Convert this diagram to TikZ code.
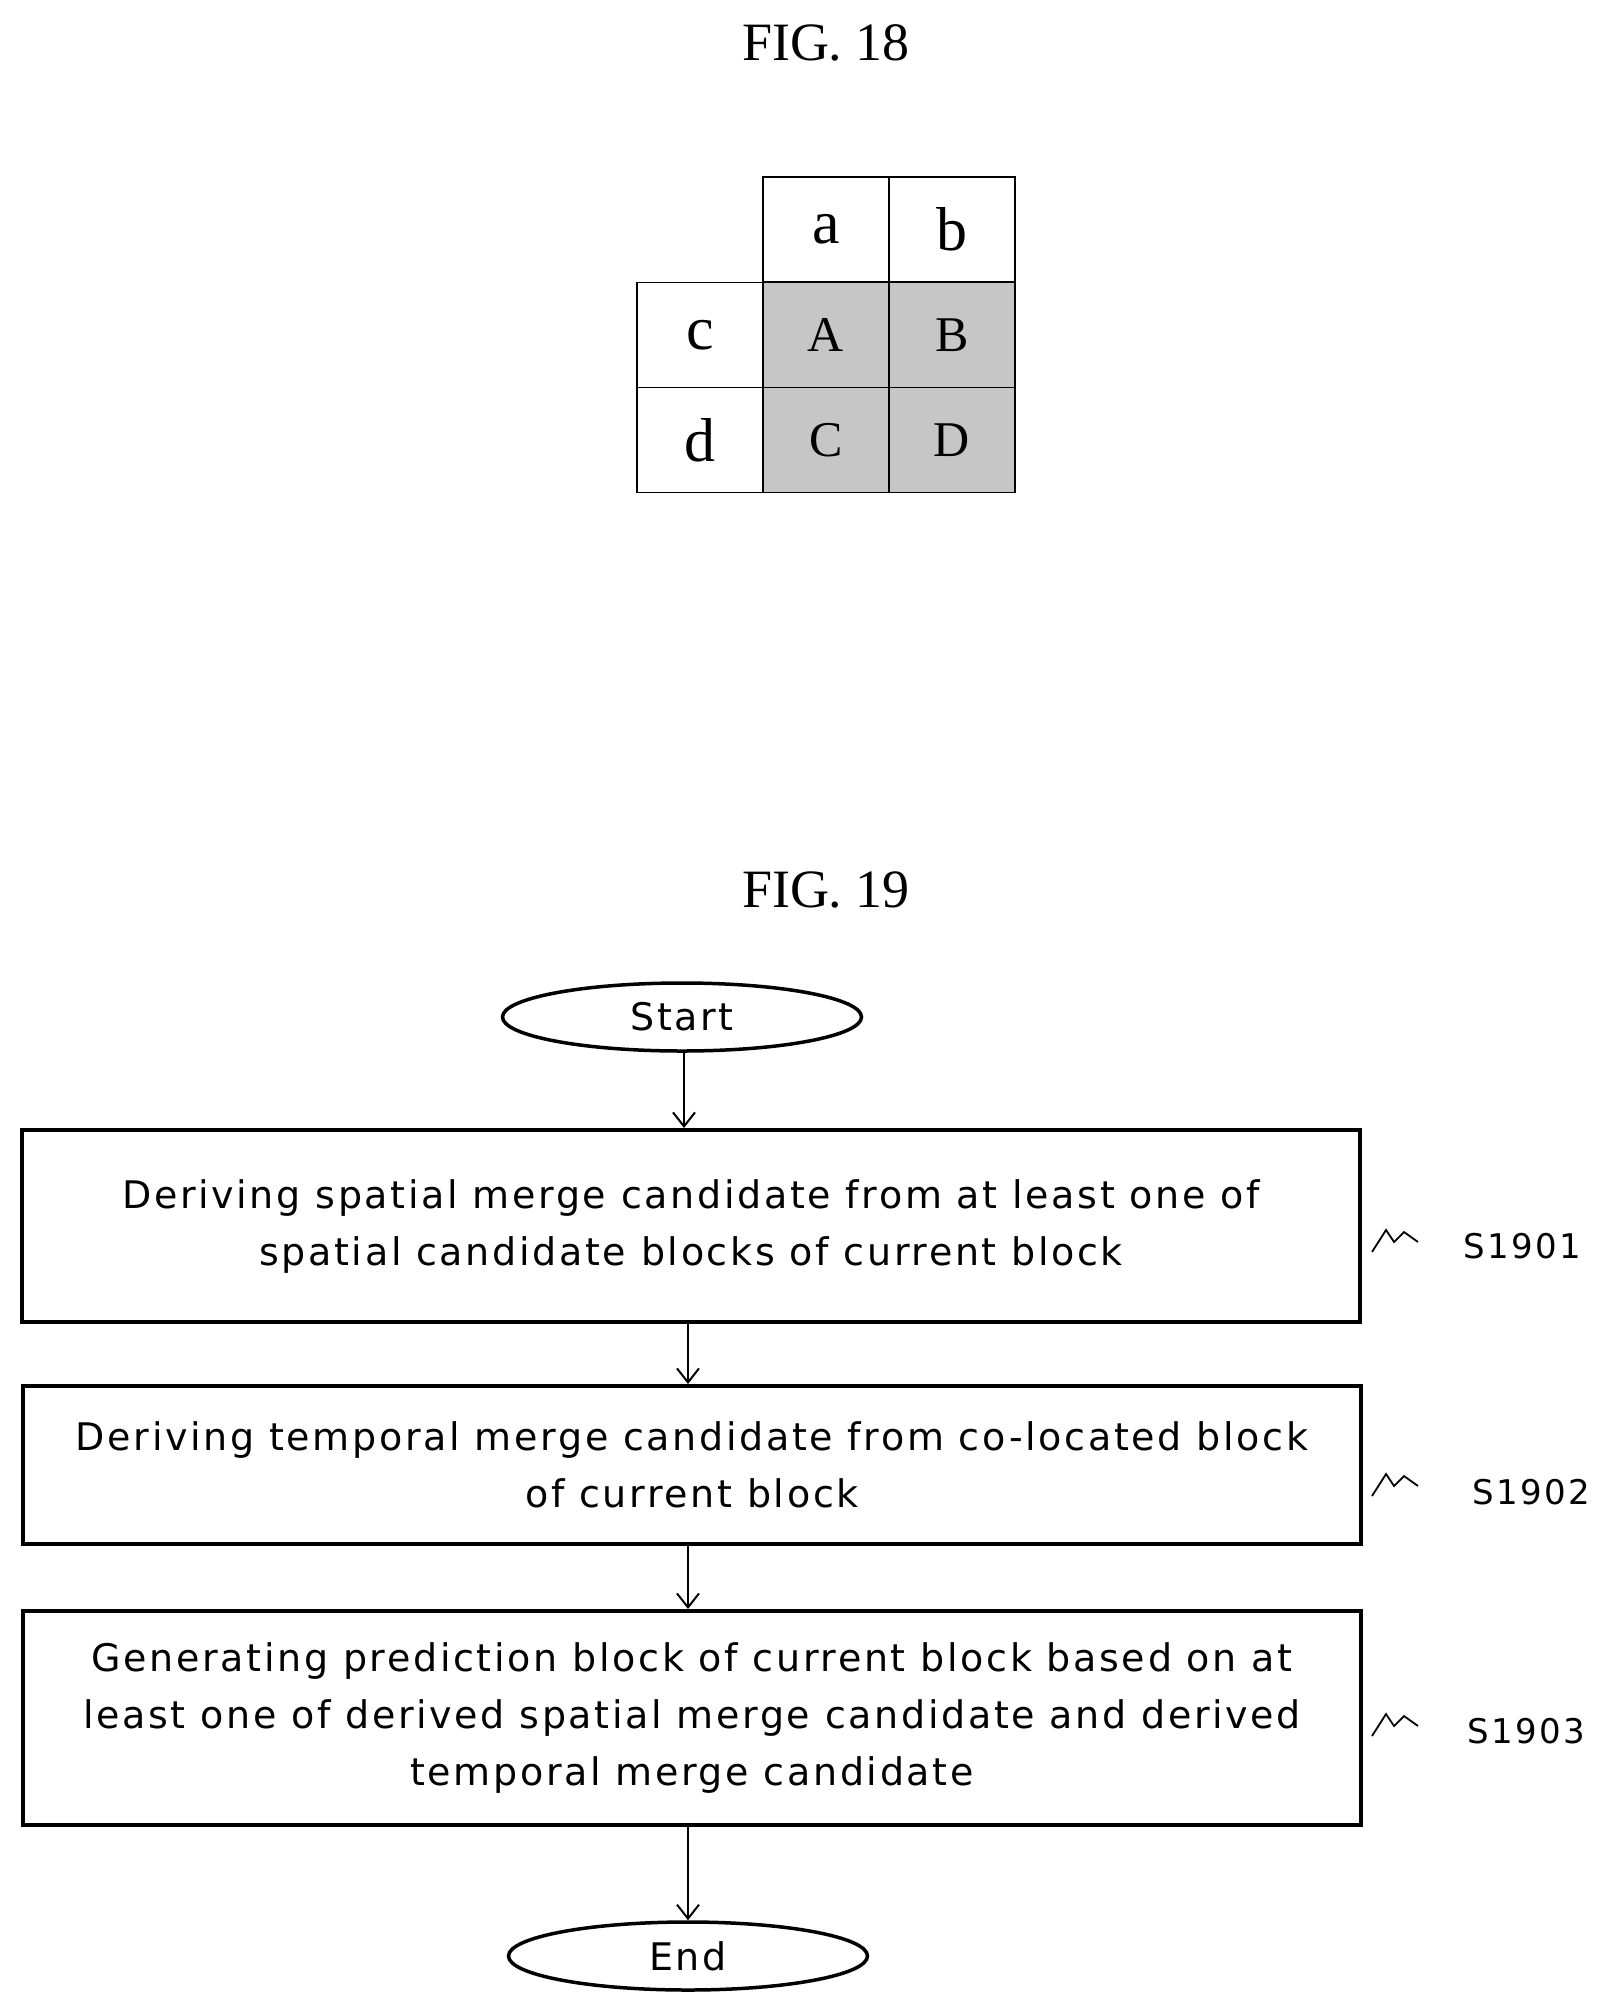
\documentclass[tikz,border=0pt]{standalone}
\usetikzlibrary{shapes.geometric,arrows.meta}
\usepackage{fontspec}
\setmainfont{Liberation Serif}
\newfontfamily\flow[LetterSpace=7]{DejaVu Sans}
\begin{document}
\begin{tikzpicture}[x=1pt,y=-1pt,
  cell/.style={draw,line width=1.8pt,minimum width=126pt,minimum height=105pt,inner sep=0pt,font=\fontsize{62}{62}\selectfont},
  shd/.style={cell,fill=gray!45,font=\fontsize{50}{50}\selectfont},
  box/.style={draw,line width=4pt,inner sep=0pt,align=center,font=\flow\fontsize{38}{57}\selectfont},
  term/.style={draw,ellipse,line width=3.5pt,minimum width=359pt,minimum height=68pt,inner sep=0pt,font=\flow\fontsize{38}{38}\selectfont},
  arr/.style={->,line width=2pt,>={Straight Barb[length=14pt,width=22pt]}},
  lab/.style={font=\flow\fontsize{34}{34}\selectfont},
  ttl/.style={font=\fontsize{54}{54}\selectfont}]
\useasboundingbox (0,0) rectangle (1606,2016);
\node[ttl] (t18) at (826,43) {FIG. 18};
\node[cell] (ca) at (826,229.5) {a};
\node[cell] (cb) at (952,229.5) {b};
\node[cell] (cc) at (700,335) {c};
\node[shd] (cA) at (826,335) {A};
\node[shd] (cB) at (952,335) {B};
\node[cell] (cd) at (700,440) {d};
\node[shd] (cC) at (826,440) {C};
\node[shd] (cD) at (952,440) {D};
\node[ttl] (t19) at (826,890) {FIG. 19};
\node[term] (st) at (682,1017) {Start};
\node[box,minimum width=1338pt,minimum height=192pt] (b1) at (691,1226) {Deriving spatial merge candidate from at least one of\\spatial candidate blocks of current block};
\node[box,minimum width=1338pt,minimum height=158pt] (b2) at (692,1465) {Deriving temporal merge candidate from co-located block\\of current block};
\node[box,minimum width=1338pt,minimum height=214pt] (b3) at (692,1718) {Generating prediction block of current block based on at\\least one of derived spatial merge candidate and derived\\temporal merge candidate};
\node[term] (en) at (688,1956) {End};
\draw[arr] (st.south -| 684,0) -- (b1.north -| 684,0);
\draw[arr] (b1.south -| 688,0) -- (b2.north -| 688,0);
\draw[arr] (b2.south -| 688,0) -- (b3.north -| 688,0);
\draw[arr] (b3.south -| 688,0) -- (en.north -| 688,0);
\node[lab] (l1) at (1522,1246) {S1901};
\node[lab] (l2) at (1531,1492) {S1902};
\node[lab] (l3) at (1526,1731) {S1903};
\foreach \y in {1238,1482,1722}{
  \draw[line width=1.8pt] (1372,\y+14) -- (1386,\y-8) -- (1394,\y+4) -- (1404,\y-6) -- (1418,\y+4);}
\end{tikzpicture}
\end{document}
